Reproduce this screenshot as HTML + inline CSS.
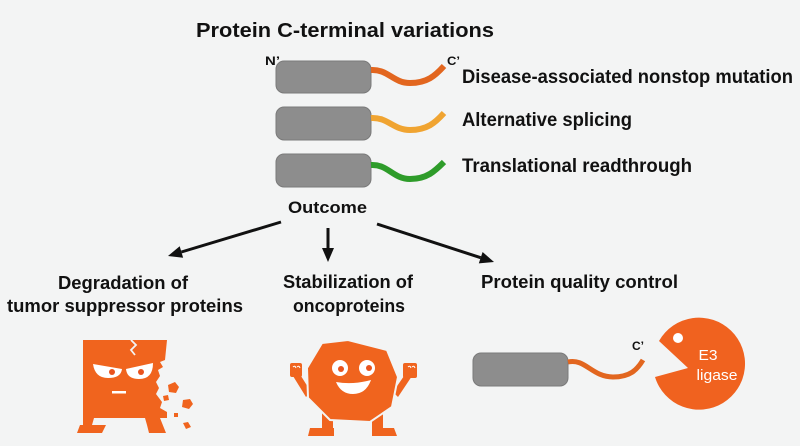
<!DOCTYPE html>
<html><head><meta charset="utf-8"><style>
html,body{margin:0;padding:0;background:#f3f4f4;}
svg{display:block;}
text{font-family:"Liberation Sans",Arial,sans-serif;font-weight:bold;fill:#111;}
</style></head><body>
<svg width="800" height="446" viewBox="0 0 800 446" xmlns="http://www.w3.org/2000/svg">
<rect width="800" height="446" fill="#f3f4f4"/>

<!-- Title -->
<text x="196" y="37" font-size="20" textLength="298" lengthAdjust="spacingAndGlyphs">Protein C-terminal variations</text>

<!-- N' C' labels -->
<text x="265" y="65" font-size="12" textLength="15" lengthAdjust="spacingAndGlyphs">N’</text>
<text x="447" y="65" font-size="12" textLength="13" lengthAdjust="spacingAndGlyphs">C’</text>

<!-- Protein boxes -->
<rect x="276" y="61" width="95" height="32" rx="8" fill="#8d8d8d" stroke="#7a7a7a" stroke-width="1"/>
<rect x="276" y="107" width="95" height="33" rx="8" fill="#8d8d8d" stroke="#7a7a7a" stroke-width="1"/>
<rect x="276" y="154" width="95" height="33" rx="8" fill="#8d8d8d" stroke="#7a7a7a" stroke-width="1"/>

<!-- Tails -->
<path d="M371,70 C388,69 393,83 410,83 C427,83 435,76 444,66" fill="none" stroke="#e2661f" stroke-width="6"/>
<path d="M371,118 C388,117 393,130 410,130 C427,130 435,123 444,113" fill="none" stroke="#f0a431" stroke-width="6"/>
<path d="M371,165 C388,164 393,179 410,179 C427,179 435,171 444,162" fill="none" stroke="#2e9c2a" stroke-width="6"/>

<!-- Variation labels -->
<text x="462" y="83" font-size="19" textLength="331" lengthAdjust="spacingAndGlyphs">Disease-associated nonstop mutation</text>
<text x="462" y="126" font-size="19" textLength="170" lengthAdjust="spacingAndGlyphs">Alternative splicing</text>
<text x="462" y="172" font-size="19" textLength="230" lengthAdjust="spacingAndGlyphs">Translational readthrough</text>

<!-- Outcome -->
<text x="288" y="213" font-size="17" textLength="79" lengthAdjust="spacingAndGlyphs">Outcome</text>

<!-- Arrows -->
<line x1="281" y1="222" x2="181.4" y2="252" stroke="#111" stroke-width="3"/>
<polygon points="168,256 183.1,257.7 179.7,246.2" fill="#111"/>
<line x1="328" y1="228" x2="328" y2="249" stroke="#111" stroke-width="3"/>
<polygon points="328,262 322,248 334,248" fill="#111"/>
<line x1="377" y1="224" x2="480.7" y2="257.7" stroke="#111" stroke-width="3"/>
<polygon points="494,262 478.8,263.4 482.6,252.0" fill="#111"/>

<!-- Outcome labels -->
<text x="58" y="289" font-size="18" textLength="130" lengthAdjust="spacingAndGlyphs">Degradation of</text>
<text x="7" y="312" font-size="18" textLength="236" lengthAdjust="spacingAndGlyphs">tumor suppressor proteins</text>
<text x="283" y="288" font-size="18" textLength="130" lengthAdjust="spacingAndGlyphs">Stabilization of</text>
<text x="293" y="312" font-size="18" textLength="112" lengthAdjust="spacingAndGlyphs">oncoproteins</text>
<text x="481" y="288" font-size="18" textLength="197" lengthAdjust="spacingAndGlyphs">Protein quality control</text>

<!-- Broken square character -->
<g fill="#f0641e">
  <polygon points="83,340 167,340 165,360 160,362 163,367 158,370 160,376 156,382 159,388 156,394 162,402 160,408 167,412 167,418 83,418"/>
  <polygon points="83,418 94,418 92,425 106,425 102,433 77,433 80,425 83,425"/>
  <polygon points="145,418 160,418 166,433 149,433 147,425"/>
  <polygon points="168,385 175,382 179,387 176,393 169,392"/>
  <polygon points="183,400 190,399 193,404 189,409 182,407"/>
  <polygon points="174,413 178,413 178,417 174,417"/>
  <polygon points="183,423 188,422 191,427 186,429"/>
  <polygon points="163,396 168,395 169,400 164,401"/>
</g>
<polyline points="131,340 136,345 131,350 135,355" fill="none" stroke="#f3f4f4" stroke-width="1.8"/>
<path d="M93,364 L122,369 Q121,378 108,378 Q95,378 93,364 Z" fill="#fff"/>
<path d="M126,369 L153,363 Q153,379 139,379 Q127,379 126,369 Z" fill="#fff"/>
<circle cx="112" cy="372" r="3" fill="#e9531d"/>
<circle cx="141" cy="372" r="3" fill="#e9531d"/>
<rect x="112" y="391" width="14" height="2.5" fill="#fff"/>

<!-- Strong octagon character -->
<g fill="#f0641e">
  <!-- arms -->
  <polygon points="293,376 301,376 311,392 306,397"/>
  <rect x="290" y="363" width="12" height="14" rx="2"/>
  <polygon points="404,376 412,376 398,397 393,392"/>
  <rect x="403" y="363" width="14" height="15" rx="2"/>
  <!-- legs -->
  <rect x="322" y="410" width="11" height="20"/>
  <polygon points="310,428 334,428 334,436 308,436"/>
  <rect x="372" y="410" width="11" height="20"/>
  <polygon points="372,428 394,428 397,436 372,436"/>
</g>
<polygon points="322,343 348,340 387,350 398,377 392,407 370,422 330,420 308,398 307,368" fill="#f0641e" stroke="#f3f4f4" stroke-width="2"/>
<path d="M293,367 q2,-2 3,1 M297,367 q2,-2 3,1" stroke="#fff" stroke-width="1" fill="none"/>
<path d="M408,367 q2,-2 3,1 M412,367 q2,-2 3,1" stroke="#fff" stroke-width="1" fill="none"/>
<circle cx="340" cy="368" r="8" fill="#fff"/>
<circle cx="367" cy="368" r="8" fill="#fff"/>
<circle cx="341" cy="369" r="3" fill="#e9531d"/>
<circle cx="369" cy="368" r="3" fill="#e9531d"/>
<path d="M336,382 Q353,385 371,380 Q366,394 353,394 Q341,394 336,382 Z" fill="#fff"/>

<!-- Protein quality control -->
<rect x="473" y="353" width="95" height="33" rx="8" fill="#8d8d8d" stroke="#7a7a7a" stroke-width="1"/>
<path d="M568,362 C585,358 592,377 613,377 C630,377 637,370 643,360" fill="none" stroke="#e2661f" stroke-width="5"/>
<text x="632" y="350" font-size="12" textLength="12" lengthAdjust="spacingAndGlyphs">C’</text>
<path d="M688,368 L659,341 A46,46 0 1,1 655,377 Z" fill="#f0621f"/>
<circle cx="678" cy="338" r="5" fill="#fff"/>
<text x="708" y="360" font-size="15" text-anchor="middle" style="fill:#fff;font-weight:normal" textLength="19" lengthAdjust="spacingAndGlyphs">E3</text>
<text x="717" y="380" font-size="15" text-anchor="middle" style="fill:#fff;font-weight:normal" textLength="41" lengthAdjust="spacingAndGlyphs">ligase</text>
</svg>
</body></html>
